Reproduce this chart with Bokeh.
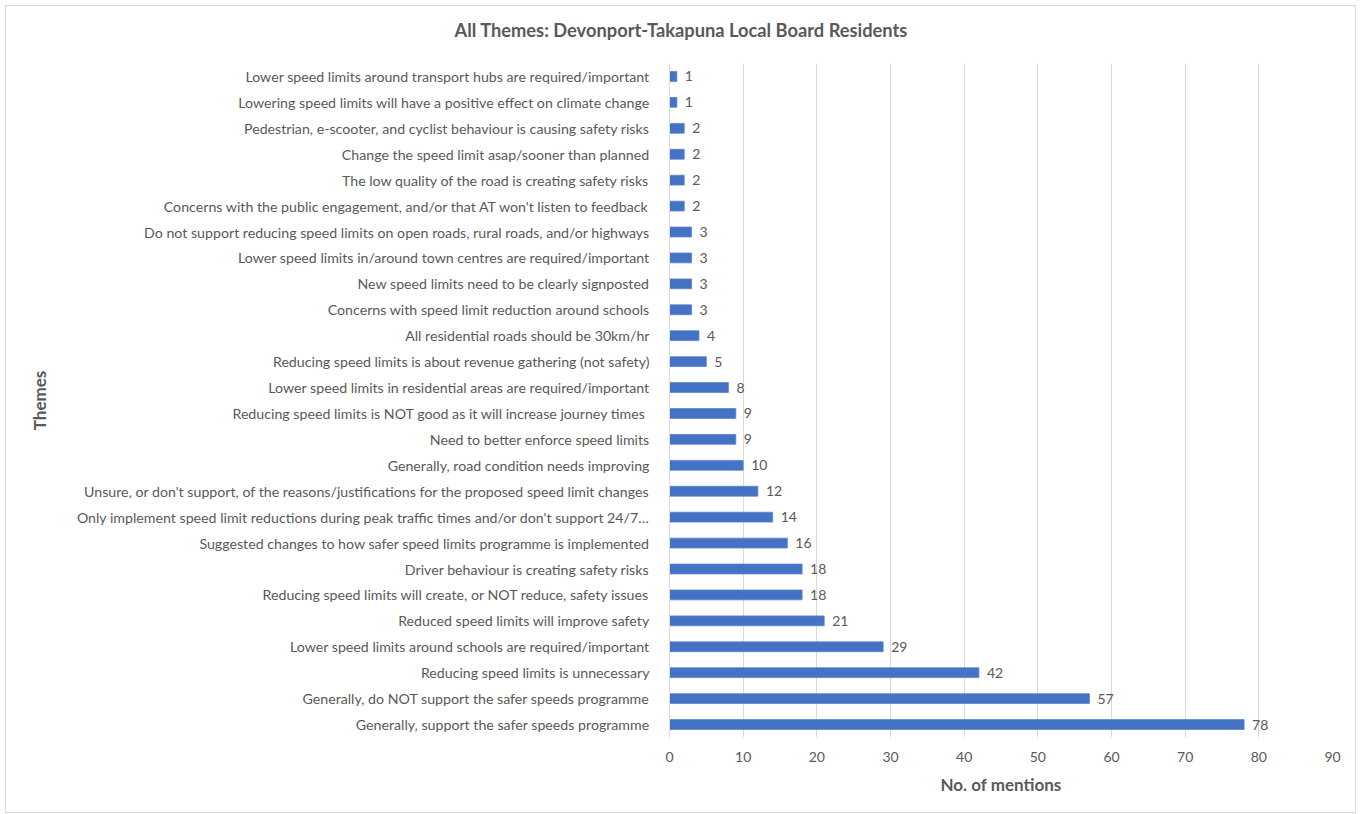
from bokeh.plotting import figure
from bokeh.models import ColumnDataSource, Range1d, FixedTicker, Title
from bokeh.core.properties import value
from bokeh.embed import file_html
from bokeh.resources import INLINE

themes = [
    "Lower speed limits around transport hubs are required/important",
    "Lowering speed limits will have a positive effect on climate change",
    "Pedestrian, e-scooter, and cyclist behaviour is causing safety risks",
    "Change the speed limit asap/sooner than planned",
    "The low quality of the road is creating safety risks",
    "Concerns with the public engagement, and/or that AT won't listen to feedback",
    "Do not support reducing speed limits on open roads, rural roads, and/or highways",
    "Lower speed limits in/around town centres are required/important",
    "New speed limits need to be clearly signposted",
    "Concerns with speed limit reduction around schools",
    "All residential roads should be 30km/hr",
    "Reducing speed limits is about revenue gathering (not safety)",
    "Lower speed limits in residential areas are required/important",
    "Reducing speed limits is NOT good as it will increase journey times ",
    "Need to better enforce speed limits",
    "Generally, road condition needs improving",
    "Unsure, or don't support, of the reasons/justifications for the proposed speed limit changes",
    "Only implement speed limit reductions during peak traffic times and/or don't support 24/7\u2026",
    "Suggested changes to how safer speed limits programme is implemented",
    "Driver behaviour is creating safety risks",
    "Reducing speed limits will create, or NOT reduce, safety issues",
    "Reduced speed limits will improve safety",
    "Lower speed limits around schools are required/important",
    "Reducing speed limits is unnecessary",
    "Generally, do NOT support the safer speeds programme",
    "Generally, support the safer speeds programme",
]
mentions = [1, 1, 2, 2, 2, 2, 3, 3, 3, 3, 4, 5, 8, 9, 9, 10, 12, 14, 16, 18, 18, 21, 29, 42, 57, 78]
x_ticks = [0, 10, 20, 30, 40, 50, 60, 70, 80, 90]
title_text = "All Themes: Devonport-Takapuna Local Board Residents"

FONT = "Lato"
GRAY = "#595959"

src = ColumnDataSource(dict(theme=themes, n=mentions, lab=[str(v) for v in mentions]))

p = figure(
    width=1351, height=808,
    y_range=list(reversed(themes)),
    x_range=Range1d(0, 90),
    output_backend="svg", toolbar_location=None,
    min_border_left=663, min_border_right=25, min_border_top=57, min_border_bottom=77,
)
p.styles = {"border": "1px solid #d9d9d9", "box-sizing": "border-box",
            "margin-left": "5px", "margin-top": "5px"}

p.hbar(y="theme", right="n", left=0, height=0.38, source=src,
       fill_color="#4472C4", line_color="#5b84cc", line_width=0.8)
p.text(x="n", y="theme", text="lab", source=src, x_offset=8,
       text_baseline="middle", text_align="left", text_color=GRAY,
       text_font=value(FONT), text_font_size="14px")

# trailing line break lifts the visible title line above the frame
t = Title(text=title_text + "\n ", align="left", text_font=FONT, text_font_size="18.3px",
          text_color=GRAY, text_font_style="bold", offset=-215, standoff=2)
p.add_layout(t, "above")
p.title.visible = False

p.outline_line_color = None
p.background_fill_color = "white"
p.border_fill_color = "white"

p.xgrid.ticker = FixedTicker(ticks=x_ticks)
p.xgrid.grid_line_color = "#d9d9d9"
p.ygrid.grid_line_color = None

xa = p.xaxis[0]
xa.ticker = FixedTicker(ticks=x_ticks)
xa.axis_line_color = None
xa.major_tick_line_color = None
xa.minor_tick_line_color = None
xa.major_label_text_font = FONT
xa.major_label_text_font_size = "14px"
xa.major_label_text_color = GRAY
xa.major_label_standoff = 8
xa.axis_label = "No. of mentions"
xa.axis_label_text_font = FONT
xa.axis_label_text_font_size = "17px"
xa.axis_label_text_font_style = "bold"
xa.axis_label_text_color = GRAY
xa.axis_label_standoff = 9

ya = p.yaxis[0]
ya.axis_line_color = "#d9d9d9"
ya.major_tick_line_color = None
ya.minor_tick_line_color = None
ya.major_label_text_font = FONT
ya.major_label_text_font_size = "14.2px"
ya.major_label_text_color = GRAY
ya.major_label_standoff = 14
ya.axis_label = "Themes"
ya.axis_label_text_font = FONT
ya.axis_label_text_font_size = "17px"
ya.axis_label_text_font_style = "bold"
ya.axis_label_text_color = GRAY
ya.axis_label_standoff = 24

open("out.html", "w").write(file_html(p, INLINE))
